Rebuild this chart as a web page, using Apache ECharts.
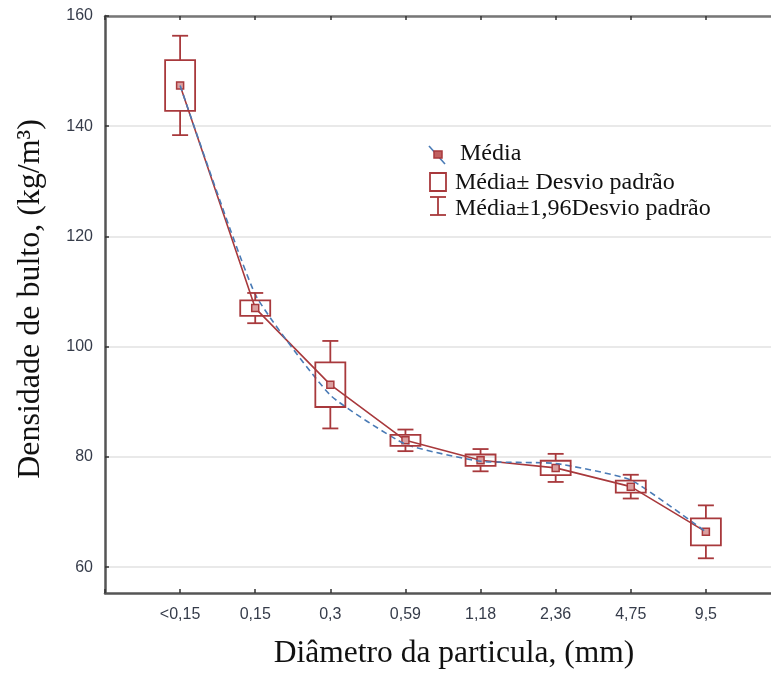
<!DOCTYPE html>
<html>
<head>
<meta charset="utf-8">
<script src="https://cdn.jsdelivr.net/npm/echarts@6/dist/echarts.min.js"></script>
<style>
  html, body { margin: 0; padding: 0; background: #ffffff; }
  #chart { width: 771px; height: 673px; }
</style>
</head>
<body>
<div id="chart"></div>
<script>
// Particle diameter classes (mm)
const categories = ['<0,15', '0,15', '0,3', '0,59', '1,18', '2,36', '4,75', '9,5'];
// Mean bulk density (kg/m³) per class
const meanValues = [147.4, 107.0, 93.1, 83.0, 79.4, 78.0, 74.6, 66.4];
// Standard deviation per class
const sdValues = [4.6, 1.4, 4.05, 1.0, 1.03, 1.3, 1.1, 2.45];
// Smoothed trend of the means (dashed curve)
const fitValues = [147.4, 109.5, 91.2, 82.3, 79.2, 78.8, 75.8, 66.4];
// Y-axis tick values
const yTicks = [60, 80, 100, 120, 140, 160];
// Legend texts
const legendLabels = ['Média', 'Média± Desvio padrão', 'Média±1,96Desvio padrão'];
// Multiplier for the outer whiskers
const whiskerFactor = 1.96;

const RED = '#a8393c';
const BLUE = '#4a7bb6';
const SERIF = '"Liberation Serif", "DejaVu Serif", serif';
const SANS = '"Liberation Sans", Arial, sans-serif';

const meanData = meanValues.map((v, i) => [i, v]);
const fitData = fitValues.map((v, i) => [i, v]);
const boxData = meanValues.map((v, i) => [i, v, sdValues[i]]);

const chart = echarts.init(document.getElementById('chart'), null, { renderer: 'canvas' });

const xAxisBase = {
  type: 'value',
  min: -1,
  max: 8,
  interval: 1,
  splitLine: { show: false },
  axisTick: { show: true, inside: true, length: 4, lineStyle: { color: '#333', width: 1.5 } }
};

chart.setOption({
  animation: false,
  backgroundColor: '#ffffff',
  // plot area runs past the right edge of the canvas
  grid: { left: 105, top: 16, width: 676, height: 577, containLabel: false, outerBoundsMode: 'none' },
  xAxis: [
    Object.assign({}, xAxisBase, {
      position: 'bottom',
      axisLine: { show: true, onZero: false, lineStyle: { color: '#555', width: 2.5 } },
      axisLabel: {
        show: true,
        margin: 14,
        fontFamily: SANS,
        fontSize: 16,
        color: '#363c4a',
        formatter: (v) => (categories[v] !== undefined ? categories[v] : '')
      }
    }),
    Object.assign({}, xAxisBase, {
      position: 'top',
      axisLine: { show: true, onZero: false, lineStyle: { color: '#777', width: 2.5 } },
      axisLabel: { show: false }
    })
  ],
  yAxis: {
    type: 'value',
    min: 55.3,
    max: 160,
    axisLine: { show: true, onZero: false, lineStyle: { color: '#555', width: 2.5 } },
    axisTick: { show: true, inside: true, length: 4, customValues: yTicks, lineStyle: { color: '#333', width: 1.5 } },
    axisLabel: {
      show: true,
      customValues: yTicks,
      margin: 12,
      fontFamily: SANS,
      fontSize: 16,
      color: '#363c4a'
    },
    splitLine: { show: true, lineStyle: { color: '#e2e2e2', width: 1.5 } }
  },
  series: [
    {
      name: legendLabels[0],
      type: 'line',
      data: meanData,
      symbol: 'rect',
      symbolSize: 7,
      itemStyle: { color: '#dba0a0', borderColor: RED, borderWidth: 1.5 },
      lineStyle: { color: RED, width: 1.6 },
      z: 3
    },
    {
      name: 'trend',
      type: 'line',
      data: fitData,
      smooth: 0.15,
      symbol: 'none',
      lineStyle: { color: BLUE, width: 1.6, type: [6, 4] },
      z: 4
    },
    {
      name: legendLabels[1],
      type: 'custom',
      data: boxData,
      z: 5,
      renderItem: function (params, api) {
        const xi = api.value(0);
        const m = api.value(1);
        const s = api.value(2);
        const cx = api.coord([xi, m])[0];
        const boxTop = api.coord([xi, m + s])[1];
        const boxBot = api.coord([xi, m - s])[1];
        const wTop = api.coord([xi, m + whiskerFactor * s])[1];
        const wBot = api.coord([xi, m - whiskerFactor * s])[1];
        const hb = 15, hc = 8;
        const st = { stroke: RED, lineWidth: 1.8, fill: null };
        return {
          type: 'group',
          children: [
            { type: 'line', shape: { x1: cx, y1: wTop, x2: cx, y2: boxTop }, style: st },
            { type: 'line', shape: { x1: cx, y1: boxBot, x2: cx, y2: wBot }, style: st },
            { type: 'line', shape: { x1: cx - hc, y1: wTop, x2: cx + hc, y2: wTop }, style: st },
            { type: 'line', shape: { x1: cx - hc, y1: wBot, x2: cx + hc, y2: wBot }, style: st },
            { type: 'rect', shape: { x: cx - hb, y: boxTop, width: 2 * hb, height: boxBot - boxTop }, style: st }
          ]
        };
      }
    }
  ],
  graphic: [
    // Y-axis title
    {
      type: 'text',
      x: 31, y: 299,
      rotation: Math.PI / 2,
      style: {
        text: 'Densidade de bulto, (kg/m³)',
        font: '32px ' + SERIF,
        fill: '#111',
        align: 'center',
        verticalAlign: 'middle'
      }
    },
    // X-axis title
    {
      type: 'text',
      x: 454, y: 654,
      style: {
        text: 'Diâmetro da particula, (mm)',
        font: '31.5px ' + SERIF,
        fill: '#111',
        align: 'center',
        verticalAlign: 'middle'
      }
    },
    // Legend: mean marker with trend line
    { type: 'line', shape: { x1: 429, y1: 146, x2: 445, y2: 164 }, style: { stroke: BLUE, lineWidth: 1.6 } },
    { type: 'rect', shape: { x: 434, y: 151, width: 8, height: 7 }, style: { fill: '#c06060', stroke: RED, lineWidth: 1.5 } },
    { type: 'text', x: 460, y: 154, style: { text: legendLabels[0], font: '24px ' + SERIF, fill: '#111', verticalAlign: 'middle' } },
    // Legend: box
    { type: 'rect', shape: { x: 430, y: 173, width: 16, height: 18 }, style: { fill: null, stroke: RED, lineWidth: 1.8 } },
    { type: 'text', x: 455, y: 183, style: { text: legendLabels[1], font: '24px ' + SERIF, fill: '#111', verticalAlign: 'middle' } },
    // Legend: whisker
    { type: 'line', shape: { x1: 430, y1: 197, x2: 446, y2: 197 }, style: { stroke: RED, lineWidth: 1.8 } },
    { type: 'line', shape: { x1: 438, y1: 197, x2: 438, y2: 215 }, style: { stroke: RED, lineWidth: 1.8 } },
    { type: 'line', shape: { x1: 430, y1: 215, x2: 446, y2: 215 }, style: { stroke: RED, lineWidth: 1.8 } },
    { type: 'text', x: 455, y: 209, style: { text: legendLabels[2], font: '24px ' + SERIF, fill: '#111', verticalAlign: 'middle' } }
  ]
});
</script>
</body>
</html>
